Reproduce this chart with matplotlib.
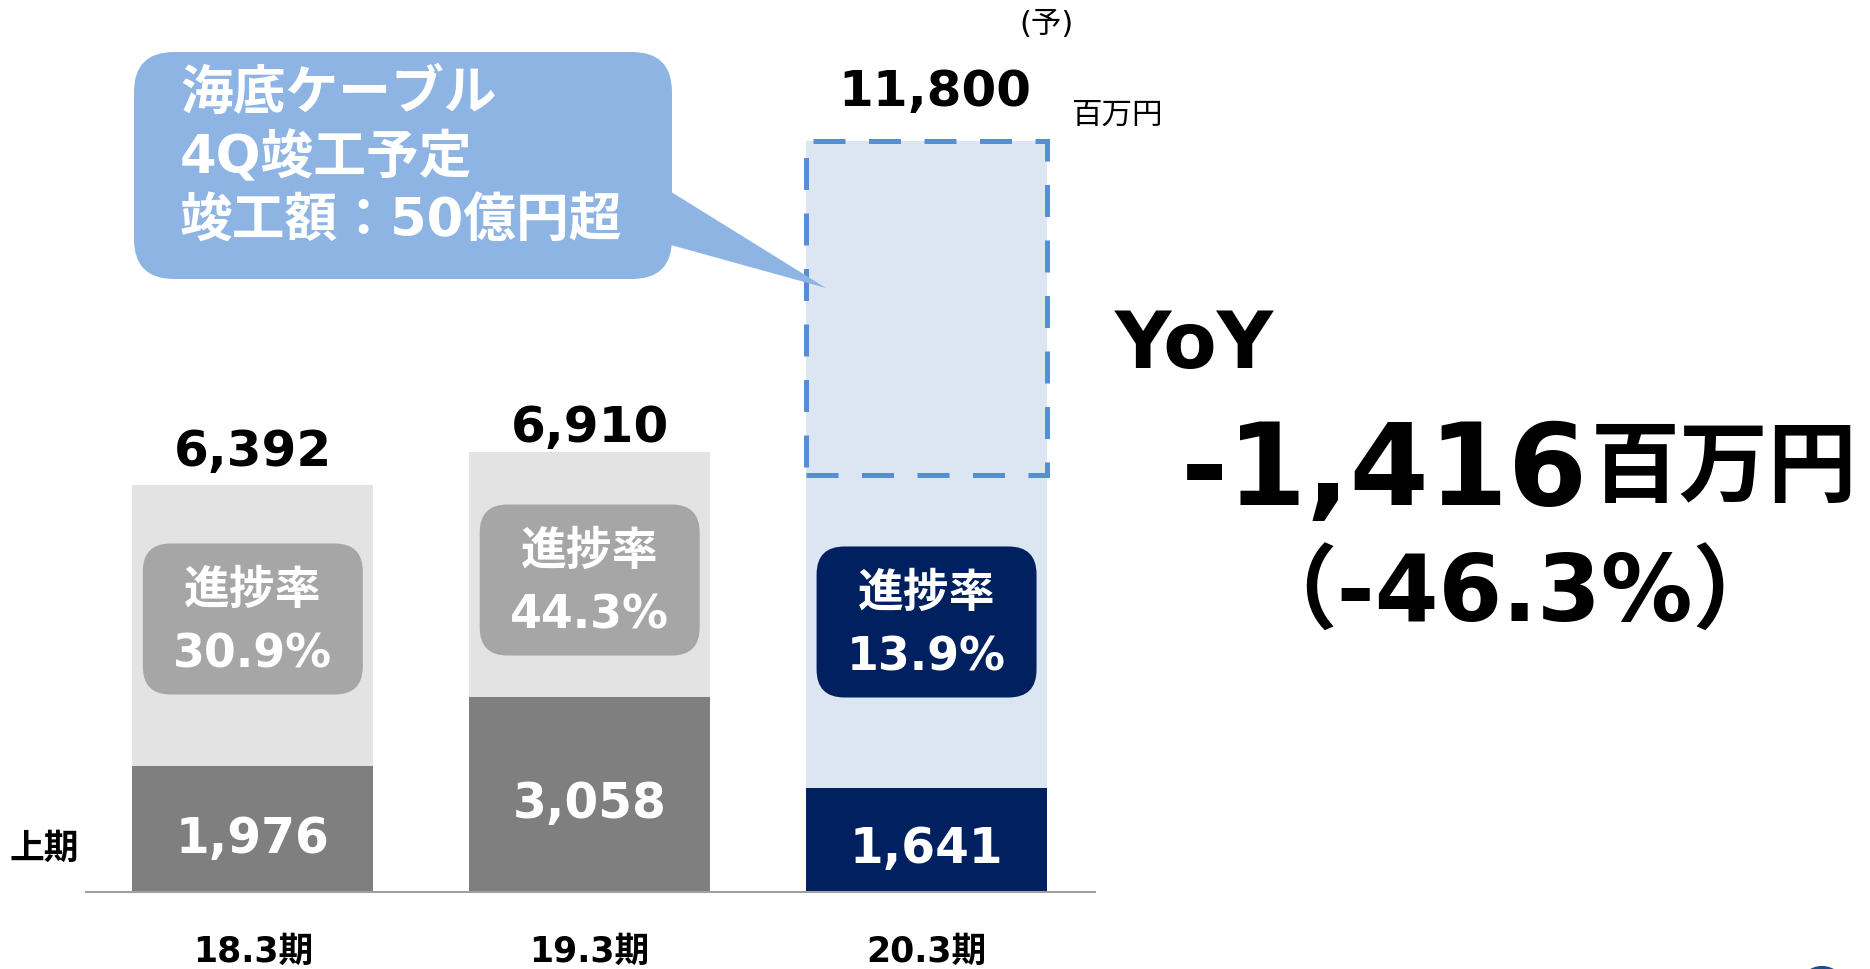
import matplotlib
matplotlib.use("Agg")
from matplotlib import pyplot as plt
from matplotlib.patches import FancyBboxPatch, Rectangle, Polygon, Circle
import numpy as np

plt.rcParams['font.family'] = ['DejaVu Sans', 'Noto Sans CJK JP']

# data (million yen)
periods = ["18.3期", "19.3期", "20.3期"]
first_half = [1976, 3058, 1641]
full_year = [6392, 6910, 11800]
cable_4q = 5250          # 海底ケーブル 4Q completion part of the 20.3 forecast
yoy_change = "-1,416"
yoy_pct = "（-46.3%）"

light_colors = ["#E3E3E3", "#E3E3E3", "#DCE6F2"]
dark_colors = ["#7F7F7F", "#7F7F7F", "#002060"]
box_colors = ["#A6A6A6", "#A6A6A6", "#002060"]

W, H = 1870, 969
fig = plt.figure(figsize=(W / 100, H / 100), dpi=100)
fig.patch.set_facecolor("white")

# main bar axes
ax = fig.add_axes([0.04594, 0.07946, 0.5395, 0.92053])
ax.set_xlim(-0.4954, 2.4993)
ax.set_ylim(0, 14010)
for s in ["top", "right", "left"]:
    ax.spines[s].set_visible(False)
ax.spines["bottom"].set_color("#A0A0A0")
ax.spines["bottom"].set_linewidth(1.5)
ax.set_xticks([])
ax.set_yticks([])

x = np.arange(len(periods))
bw = 0.715
ax.bar(x, full_year, width=bw, color=light_colors, zorder=1)
ax.bar(x, first_half, width=bw, color=dark_colors, zorder=2)

# dashed part of the forecast bar
ax.add_patch(Rectangle((x[2] - bw / 2, full_year[2] - cable_4q), bw, cable_4q,
                       fill=False, edgecolor="#558ED5", lw=3.6,
                       linestyle=(0, (6.4, 4.7)), zorder=3))

# totals above bars
pads = [14, 7, 25]
shifts = [0, 0, 6]
for i in range(len(x)):
    ax.annotate(f"{full_year[i]:,}", (x[i], full_year[i]), xytext=(shifts[i], pads[i]),
                textcoords="offset points", ha="center", va="baseline",
                fontsize=36, fontweight="bold", color="black")

# first-half values inside dark bars
for i in range(len(x)):
    ax.annotate(f"{first_half[i]:,}", (x[i], first_half[i] / 2), xytext=(0, -7),
                textcoords="offset points", ha="center", va="center",
                fontsize=35, fontweight="bold", color="white", zorder=4)

# progress rate boxes
box_y = [4288, 4900, 4241]
bx_w, bx_h = 0.653, 2372
for i in range(len(x)):
    rate = first_half[i] / full_year[i] * 100
    ax.add_patch(FancyBboxPatch((x[i] - bx_w / 2, box_y[i] - bx_h / 2), bx_w, bx_h,
                                boxstyle="round,pad=0,rounding_size=0.083",
                                mutation_aspect=5291, fc=box_colors[i], ec="none",
                                zorder=4))
    ax.annotate("進捗率", (x[i], box_y[i]), xytext=(0, 20), textcoords="offset points",
                ha="center", va="center", fontsize=33, fontweight="bold",
                color="white", zorder=5)
    ax.annotate(f"{rate:.1f}%", (x[i], box_y[i]), xytext=(0, -26),
                textcoords="offset points", ha="center", va="center",
                fontsize=33, fontweight="bold", color="white", zorder=5)

# period labels
for i in range(len(x)):
    ax.annotate(periods[i], (x[i], 0), xytext=(0, -43), textcoords="offset points",
                ha="center", va="center", fontsize=25, fontweight="bold",
                annotation_clip=False)

# overlay in pixel coordinates for free annotations
ov = fig.add_axes([0, 0, 1, 1])
ov.set_xlim(0, W)
ov.set_ylim(H, 0)
ov.axis("off")

ov.text(44, 849, "上期", ha="center", va="center", fontsize=25, fontweight="bold")

# callout
ov.add_patch(FancyBboxPatch((134, 52), 538, 227, boxstyle="round,pad=0,rounding_size=40",
                            fc="#8EB4E3", ec="none"))
ov.add_patch(Polygon([(660, 185), (826, 288), (660, 242)], closed=True,
                     fc="#8EB4E3", ec="none"))
for yy, line in zip([94, 158, 222], ["海底ケーブル", "4Q竣工予定", "竣工額：50億円超"]):
    ov.text(180, yy, line, ha="left", va="center", fontsize=38,
            fontweight="bold", color="white")

ov.text(1046, 24, "(予)", ha="center", va="center", fontsize=22)
ov.text(1117, 115, "百万円", ha="center", va="center", fontsize=22)

# YoY
ov.text(1115, 368, "YoY", ha="left", va="baseline", fontsize=56, fontweight="bold")
ov.text(1384, 505, yoy_change, ha="center", va="baseline", fontsize=82, fontweight="bold")
ov.text(1724, 470, "百万円", ha="center", va="center", fontsize=64, fontweight="bold")
ov.text(1515, 622, yoy_pct, ha="center", va="baseline", fontsize=66, fontweight="bold")

# corner of logo
ov.add_patch(Circle((1822, 990), 22, fill=False, ec="#1F4E8C", lw=3))

fig.savefig("out.png", dpi=100)
